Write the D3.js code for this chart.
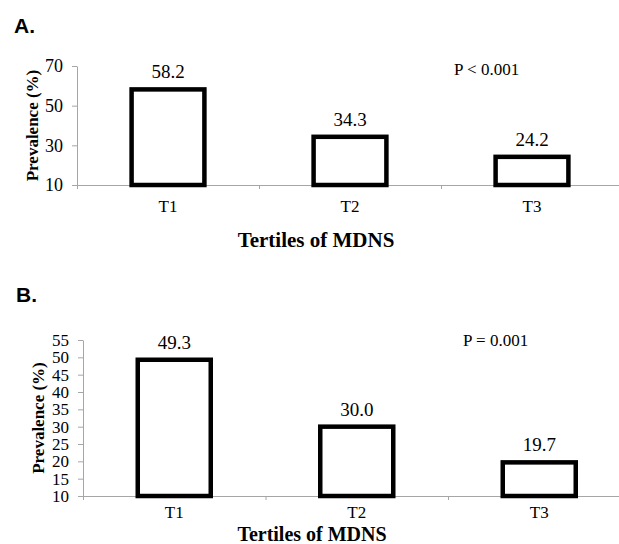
<!DOCTYPE html>
<html>
<head>
<meta charset="utf-8">
<script src="https://cdn.jsdelivr.net/npm/d3@7"></script>
<style>
  body { margin: 0; background: #fff; }
  .axis path, .axis line { stroke: #a6a6a6; }
  text { fill: #000; }
</style>
</head>
<body>
<svg id="chart" width="619" height="544"></svg>
<script>
// data
const categories = ["T1", "T2", "T3"];
const prevalenceA = [58.2, 34.3, 24.2];
const prevalenceB = [49.3, 30.0, 19.7];
const ticksA = [10, 30, 50, 70];
const ticksB = [10, 15, 20, 25, 30, 35, 40, 45, 50, 55];
const pTextA = "P < 0.001";
const pTextB = "P = 0.001";

var svg = d3.select("#chart");
const serif = "Liberation Serif";

const drawPanel = (opt) => {
    var g = svg.append("g");

    let x = d3.scaleBand()
        .domain(categories)
        .range([opt.left, opt.left + 3 * opt.step])
        .paddingInner(0.6)
        .paddingOuter(0.3);

    // band boundaries, used for the little ticks under the axis
    let xEdge = d3.scaleLinear()
        .domain([0, 3])
        .range([opt.left, opt.left + 3 * opt.step]);

    let y = d3.scaleLinear()
        .domain(opt.domain)
        .range([opt.bottom, opt.top]);

    //y-axis
    g.append("g")
        .attr("class", "axis")
        .attr("transform", "translate(" + opt.left + ",0)")
        .call(d3.axisLeft(y).tickValues(opt.ticks).tickSize(5).tickSizeOuter(0).tickPadding(9))
        .attr("font-family", serif)
        .attr("font-size", opt.tickFont);

    //x-axis line + boundary ticks
    g.append("g")
        .attr("class", "axis")
        .attr("transform", "translate(0," + opt.bottom + ")")
        .call(d3.axisBottom(xEdge).tickValues([0, 1, 2, 3]).tickSize(4).tickSizeOuter(0).tickFormat(""));

    //category labels
    g.append("g")
        .attr("class", "axis")
        .attr("transform", "translate(0," + opt.bottom + ")")
        .call(d3.axisBottom(x).tickSize(0).tickPadding(opt.catPad))
        .attr("font-family", serif)
        .attr("font-size", 17)
        .call(a => a.select(".domain").remove());

    //bars
    g.selectAll("rect.bar")
        .data(opt.values)
        .enter()
        .append("rect")
        .attr("class", "bar")
        .attr("x", (d, i) => x(categories[i]))
        .attr("width", x.bandwidth())
        .attr("y", d => y(d))
        .attr("height", d => opt.bottom - y(d))
        .style("fill", "#fff")
        .style("stroke", "#000")
        .style("stroke-width", 4.5);

    //value labels
    g.selectAll("text.val")
        .data(opt.values)
        .enter()
        .append("text")
        .attr("class", "val")
        .attr("x", (d, i) => x(categories[i]) + x.bandwidth() / 2)
        .attr("y", d => y(d) - 11)
        .attr("text-anchor", "middle")
        .attr("font-family", serif)
        .attr("font-size", 19)
        .text(d => d.toFixed(1));

    //p-value
    g.append("text")
        .attr("x", xEdge(2) + opt.pDx)
        .attr("y", opt.top + opt.pDy)
        .attr("font-family", serif)
        .attr("font-size", 17)
        .text(opt.pText);

    //y-axis label, rotated
    g.append("text")
        .attr("transform", "translate(" + opt.yLabelX + "," + ((opt.top + opt.bottom) / 2) + ")rotate(270)")
        .attr("text-anchor", "middle")
        .attr("font-family", serif)
        .attr("font-weight", "bold")
        .attr("font-size", 17)
        .text("Prevalence (%)");

    //x-axis label
    g.append("text")
        .attr("x", opt.xLabelX)
        .attr("y", opt.xLabelY)
        .attr("text-anchor", "middle")
        .attr("font-family", serif)
        .attr("font-weight", "bold")
        .attr("font-size", opt.titleFont)
        .text("Tertiles of MDNS");

    //panel letter
    svg.append("text")
        .attr("x", opt.letterX)
        .attr("y", opt.letterY)
        .attr("font-family", "Liberation Sans")
        .attr("font-weight", "bold")
        .attr("font-size", 21)
        .text(opt.letter);
}

drawPanel({
    values: prevalenceA, ticks: ticksA, domain: [10, 70], pText: pTextA,
    left: 77, step: 182, top: 66, bottom: 185, tickFont: 18, catPad: 15,
    pDx: 13, pDy: 9, yLabelX: 38, xLabelX: 316, xLabelY: 247, titleFont: 21,
    letter: "A.", letterX: 14, letterY: 33
});

drawPanel({
    values: prevalenceB, ticks: ticksB, domain: [10, 55], pText: pTextB,
    left: 83, step: 182.5, top: 340, bottom: 496, tickFont: 17, catPad: 10,
    pDx: 15, pDy: 6, yLabelX: 44, xLabelX: 312, xLabelY: 541, titleFont: 20,
    letter: "B.", letterX: 16, letterY: 302
});
</script>
</body>
</html>
